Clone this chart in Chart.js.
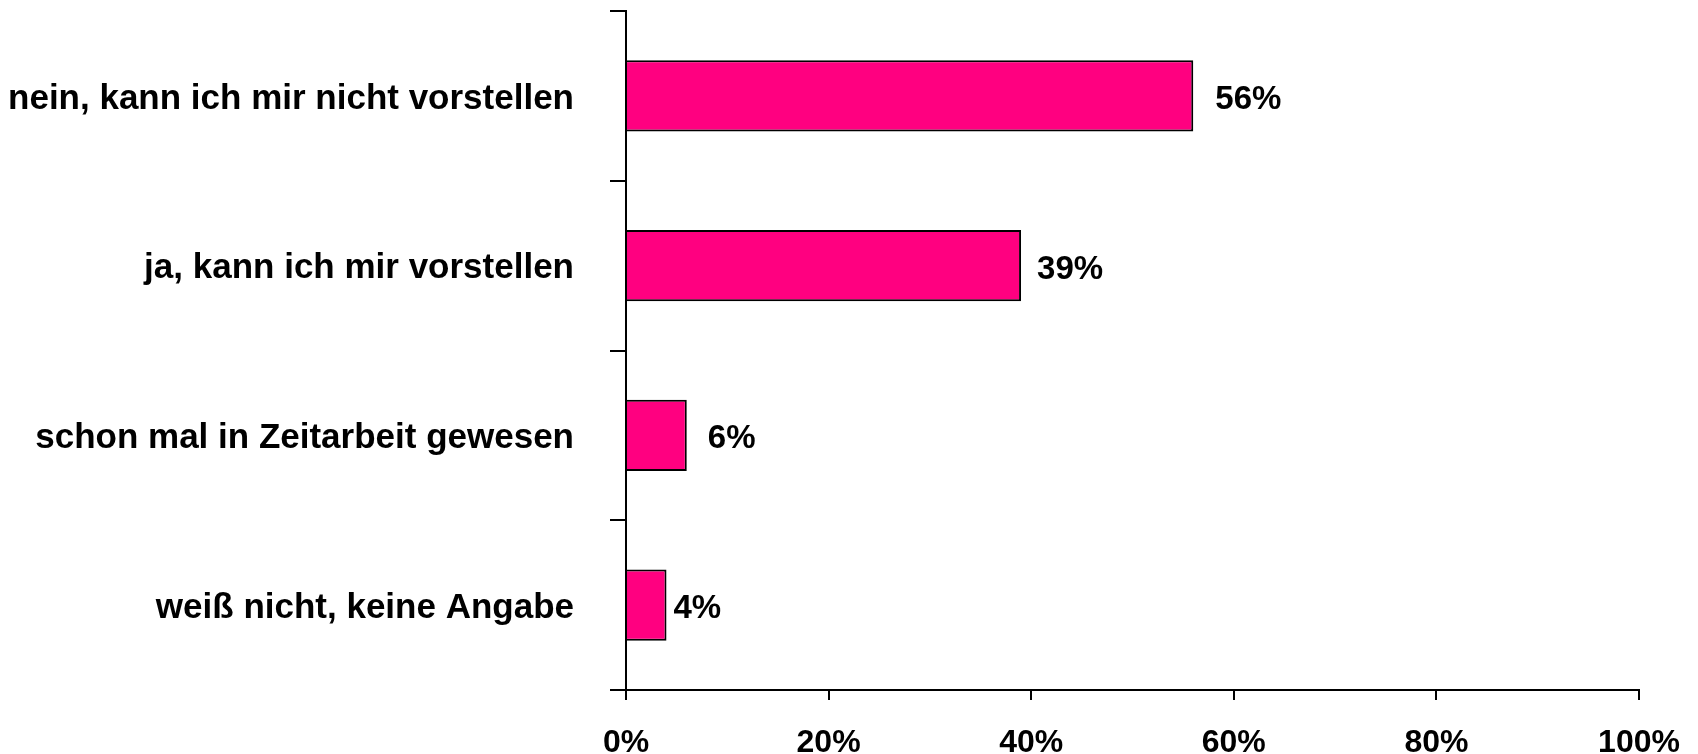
<!DOCTYPE html>
<html><head><meta charset="utf-8">
<script src="https://cdn.jsdelivr.net/npm/chart.js@4"></script>
<style>html,body{margin:0;padding:0;background:#fff}#w{width:1698px;height:754px}</style>
</head><body><div id="w"><canvas id="c"></canvas></div>
<script>
const categories = ["nein, kann ich mir nicht vorstellen","ja, kann ich mir vorstellen","schon mal in Zeitarbeit gewesen","weiß nicht, keine Angabe"];
const values = [56, 39, 6, 4];
const valueLabels = ["56%","39%","6%","4%"];
const xTicks = [0,20,40,60,80,100];

const labelPlugin = {
  id:'lbl',
  afterDatasetsDraw(chart){
    const ctx = chart.ctx;
    const meta = chart.getDatasetMeta(0);
    const offs = [22, 16, 21, 7];
    ctx.save();
    ctx.font = 'bold 33px "Liberation Sans", Arial, sans-serif';
    ctx.fillStyle = '#000';
    ctx.textBaseline = 'middle';
    ctx.textAlign = 'left';
    meta.data.forEach((b,i)=>{ ctx.fillText(valueLabels[i], b.x + offs[i], b.y + 4); });
    ctx.restore();
  }
};

new Chart(document.getElementById('c'), {
  type:'bar',
  data:{labels:categories, datasets:[{data:values, backgroundColor:'#FF0080', borderColor:'#000', borderWidth:2, barPercentage:0.42, categoryPercentage:1}]},
  plugins:[labelPlugin],
  options:{
    indexAxis:'y', responsive:true, maintainAspectRatio:false, animation:false,
    layout:{padding:{top:11,right:59,left:0,bottom:0}},
    plugins:{legend:{display:false}, tooltip:{enabled:false}},
    scales:{
      x:{min:0,max:100,
        afterBuildTicks(s){ s.ticks = xTicks.map(v=>({value:v})); },
        afterFit(s){ s.height = 64; s.paddingLeft = 0; s.paddingRight = 0; },
        grid:{drawOnChartArea:false, tickLength:10, color:'#000', lineWidth:2},
        border:{color:'#000', width:2},
        ticks:{padding:24, color:'#000', maxRotation:0, font:{family:'"Liberation Sans", Arial, sans-serif', size:32, weight:'bold'}, callback:v=>v+'%'}
      },
      y:{
        afterFit(s){ s.width = 626; s.paddingTop = 0; s.paddingBottom = 0; },
        grid:{drawOnChartArea:false, tickLength:16, color:'#000', lineWidth:2, offset:true},
        border:{color:'#000', width:2},
        ticks:{padding:36, labelOffset:3, color:'#000', font:{family:'"Liberation Sans", Arial, sans-serif', size:35, weight:'bold'}}
      }
    }
  }
});
</script></body></html>
